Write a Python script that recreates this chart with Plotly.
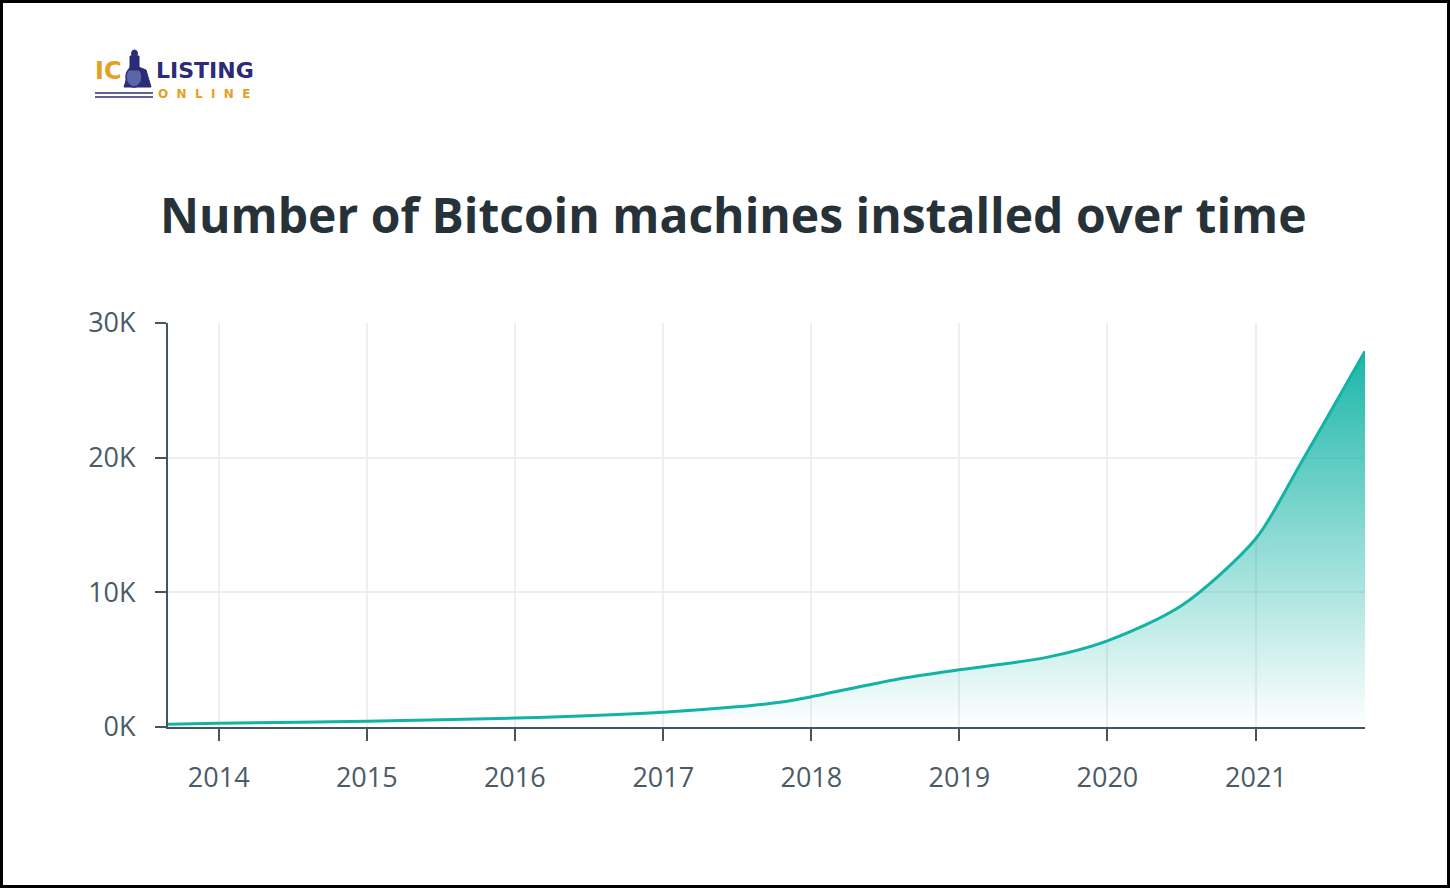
import plotly.graph_objects as go

# ---- data ----
dates = ["2013-08-29", "2014-01-01", "2015-01-01", "2016-01-01", "2017-01-01",
         "2017-07-01", "2017-10-20", "2018-01-01", "2018-08-01", "2019-01-01",
         "2019-08-01", "2020-01-01", "2020-07-01", "2021-01-01", "2021-04-20",
         "2021-09-27"]
machines = [200, 280, 430, 660, 1100, 1500, 1850, 2250, 3550, 4250,
            5150, 6400, 9000, 14000, 19500, 27900]
year_ticks = ["2014-01-01", "2015-01-01", "2016-01-01", "2017-01-01",
              "2018-01-01", "2019-01-01", "2020-01-01", "2021-01-01"]
year_labels = ["2014", "2015", "2016", "2017", "2018", "2019", "2020", "2021"]
y_ticks = [0, 10000, 20000, 30000]
y_labels = ["0K", "10K", "20K", "30K"]
title = "Number of Bitcoin machines installed over time"

W, H = 1450, 888
L, R, T, B = 168, 85, 323, 161
pw, ph = W - L - R, H - T - B

def px_x(p):
    return (p - L) / pw

def px_y(p):
    return (H - B - p) / ph

teal = "#12B3A5"
axis_col = "#44555F"
navy = "#2C2B78"
orange = "#E69F22"
tick_font = dict(family="Open Sans", size=27, color="#4A5B66")

fig = go.Figure()
fig.add_trace(go.Scatter(
    x=dates, y=machines, mode="lines",
    line=dict(color=teal, width=3, shape="spline", smoothing=0.8),
    fill="tozeroy",
    fillgradient=dict(type="vertical",
                      colorscale=[[0, "rgba(20,180,166,0.0)"],
                                  [1, "rgba(20,180,166,0.97)"]]),
    hoverinfo="skip", showlegend=False,
))

fig.update_layout(
    width=W, height=H,
    margin=dict(l=L, r=R, t=T, b=B),
    paper_bgcolor="white", plot_bgcolor="white",
    font=dict(family="Open Sans"),
    xaxis=dict(type="date", range=["2013-08-29", "2021-09-27"],
               tickvals=year_ticks, ticktext=year_labels,
               showgrid=True, gridcolor="#EEEEEE", gridwidth=1.5,
               showline=True, linecolor=axis_col, linewidth=2,
               ticks="outside", ticklen=12, tickwidth=2, tickcolor=axis_col,
               tickfont=tick_font, ticklabelstandoff=14, zeroline=False),
    yaxis=dict(range=[0, 30000], tickvals=y_ticks, ticktext=y_labels,
               showgrid=True, gridcolor="#EEEEEE", gridwidth=1.5,
               showline=True, linecolor=axis_col, linewidth=2,
               ticks="outside", ticklen=11, tickwidth=2, tickcolor=axis_col,
               tickfont=tick_font, ticklabelstandoff=14, zeroline=False),
)

# title
fig.add_annotation(text="<b>" + title + "</b>", xref="paper", yref="paper",
                   x=px_x(733), y=px_y(214), xanchor="center", yanchor="middle",
                   showarrow=False,
                   font=dict(family="Open Sans", size=48, color="#263238"))

# logo text
fig.add_annotation(text="<b>IC</b>", xref="paper", yref="paper",
                   x=px_x(93), y=px_y(71), xanchor="left", yanchor="middle",
                   showarrow=False,
                   font=dict(family="DejaVu Sans", size=24, color=orange))
fig.add_annotation(text="<b>LISTING</b>", xref="paper", yref="paper",
                   x=px_x(154), y=px_y(71), xanchor="left", yanchor="middle",
                   showarrow=False,
                   font=dict(family="DejaVu Sans", size=22, color=navy))
fig.add_annotation(text="<b>O&nbsp;&nbsp;N&nbsp;&nbsp;L&nbsp;&nbsp;I&nbsp;&nbsp;N&nbsp;&nbsp;E</b>",
                   xref="paper", yref="paper",
                   x=px_x(156), y=px_y(94), xanchor="left", yanchor="middle",
                   showarrow=False,
                   font=dict(family="DejaVu Sans", size=12, color=orange))
# logo icon: seated figure on a wheel
fig.add_shape(type="path", xref="paper", yref="paper",
              path="M {0},{1} L {2},{3} L {4},{5} L {6},{7} Z".format(
                  px_x(124), px_y(87), px_x(131), px_y(64),
                  px_x(146), px_y(70), px_x(151), px_y(87)),
              fillcolor=navy, line=dict(color=navy, width=1))
fig.add_shape(type="circle", xref="paper", yref="paper",
              x0=px_x(126), x1=px_x(142), y0=px_y(87), y1=px_y(67),
              fillcolor="#5B66A8", line=dict(color=navy, width=1.5))
fig.add_shape(type="rect", xref="paper", yref="paper",
              x0=px_x(130), x1=px_x(139), y0=px_y(70), y1=px_y(56),
              fillcolor=navy, line=dict(color=navy, width=1))
fig.add_shape(type="circle", xref="paper", yref="paper",
              x0=px_x(131.5), x1=px_x(137.5), y0=px_y(57), y1=px_y(50),
              fillcolor=navy, line=dict(color=navy, width=1))
for yy in (93, 97):
    fig.add_shape(type="line", xref="paper", yref="paper",
                  x0=px_x(95), x1=px_x(153), y0=px_y(yy), y1=px_y(yy),
                  line=dict(color=navy, width=1.6))

# outer border
fig.add_shape(type="rect", xref="paper", yref="paper",
              x0=px_x(1.5), x1=px_x(W - 1.5), y0=px_y(H - 1.5), y1=px_y(1.5),
              line=dict(color="black", width=3), layer="above")

fig.write_html("out.html")
